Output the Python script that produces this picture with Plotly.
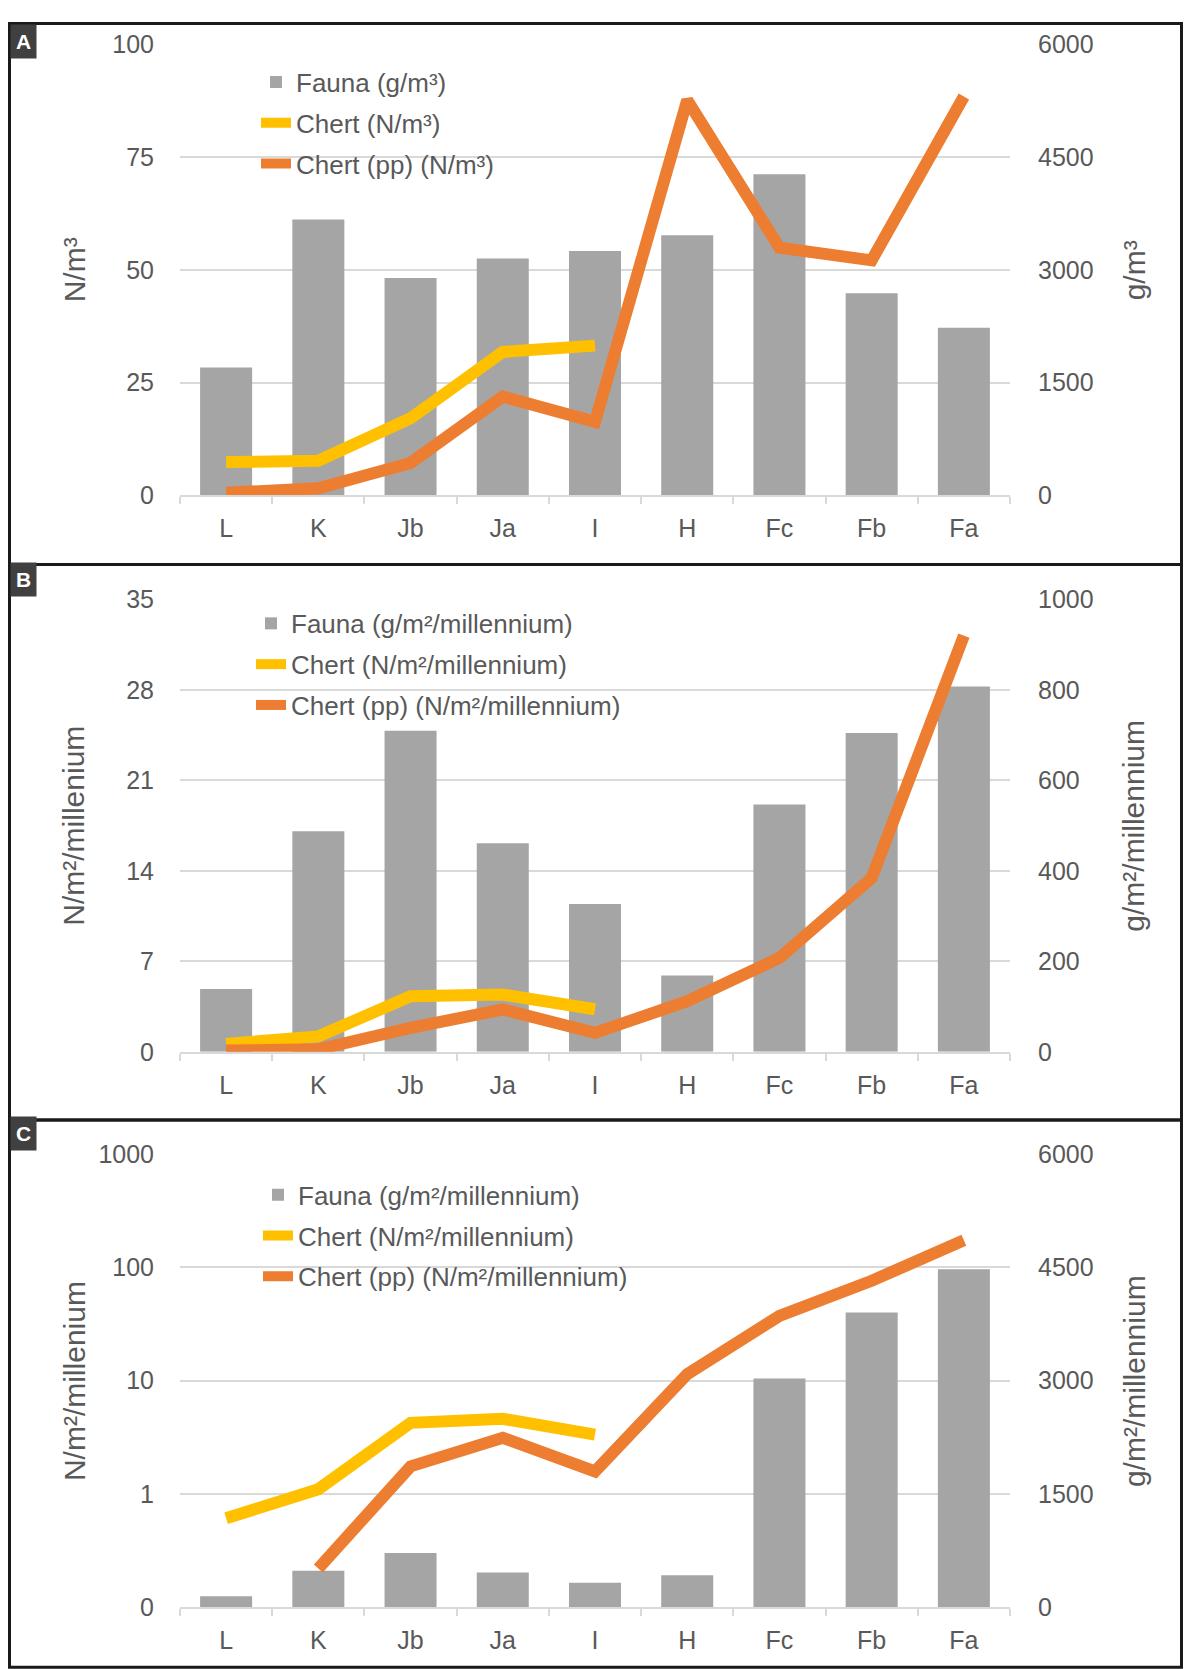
import plotly.graph_objects as go

# Figure size (the page adds an 8px body margin around it)
W, H = 1175, 1676

categories = ["L", "K", "Jb", "Ja", "I", "H", "Fc", "Fb", "Fa"]

# Panel A
fauna_a = [1700, 3670, 2890, 3150, 3250, 3460, 4270, 2690, 2230]
chert_a = [7.4, 7.7, 17.1, 31.8, 33.2, None, None, None, None]
chert_pp_a = [0.6, 1.6, 7.2, 21.9, 16.3, 87.6, 54.9, 52.1, 88.4]

# Panel B
fauna_b = [139, 488, 710, 461, 327, 169, 547, 705, 808]
chert_b = [0.62, 1.2, 4.3, 4.44, 3.3, None, None, None, None]
chert_pp_b = [0.1, 0.2, 1.86, 3.28, 1.47, 3.92, 7.27, 13.46, 32.2]

# Panel C (left axis logarithmic)
fauna_c = [147, 482, 719, 460, 326, 424, 3029, 3900, 4475]
chert_c = [0.61, 1.1, 4.24, 4.6, 3.34, None, None, None, None]
chert_pp_c = [None, 0.22, 1.75, 3.13, 1.58, 11.4, 37.3, 76, 173]

left_ticks_a = [0, 25, 50, 75, 100]
right_ticks_a = [0, 1500, 3000, 4500, 6000]
left_ticks_b = [0, 7, 14, 21, 28, 35]
right_ticks_b = [0, 200, 400, 600, 800, 1000]
left_ticks_c = [0.1, 1, 10, 100, 1000]
left_ticktext_c = ["0", "1", "10", "100", "1000"]
right_ticks_c = [0, 1500, 3000, 4500, 6000]

GRAY = "#a5a5a5"
YELLOW = "#ffc000"
ORANGE = "#ed7d31"
TXT = "#595959"
GRID = "#d9d9d9"
FONT = "Liberation Sans, Arial, sans-serif"


def px_x(t):
    # target picture x (px) -> paper x
    return (t - 8) / W


def fig_y(t):
    # target picture y (px) -> figure y (px from top)
    return (t - 14) / 0.9826 - 8


def px_y(t):
    return 1 - fig_y(t) / H


def raw_y(fy):
    return 1 - fy / H


x_dom = [px_x(180), px_x(1010)]
dom_a = [px_y(495), px_y(44)]
dom_b = [px_y(1051), px_y(599)]
dom_c = [px_y(1606), px_y(1153)]

fig = go.Figure()

panels = [
    dict(x="x", ybar="y", yline="y2", legend="legend",
         fauna=fauna_a, chert=chert_a, pp=chert_pp_a,
         names=["Fauna (g/m³)", "Chert (N/m³)", "Chert (pp) (N/m³)"]),
    dict(x="x2", ybar="y3", yline="y4", legend="legend2",
         fauna=fauna_b, chert=chert_b, pp=chert_pp_b,
         names=["Fauna (g/m²/millennium)", "Chert (N/m²/millennium)",
                "Chert (pp) (N/m²/millennium)"]),
    dict(x="x3", ybar="y5", yline="y6", legend="legend3",
         fauna=fauna_c, chert=chert_c, pp=chert_pp_c,
         names=["Fauna (g/m²/millennium)", "Chert (N/m²/millennium)",
                "Chert (pp) (N/m²/millennium)"]),
]

for i, p in enumerate(panels):
    fig.add_trace(go.Bar(x=categories, y=p["fauna"], name=p["names"][0],
                         marker=dict(color=GRAY, line=dict(width=0)),
                         xaxis=p["x"], yaxis=p["ybar"], legend=p["legend"],
                         legendgroup=f"f{i}"))
    fig.add_trace(go.Scatter(x=categories, y=p["chert"], name=p["names"][1],
                             mode="lines", line=dict(color=YELLOW, width=12),
                             xaxis=p["x"], yaxis=p["yline"], legend=p["legend"],
                             legendgroup=f"c{i}"))
    fig.add_trace(go.Scatter(x=categories, y=p["pp"], name=p["names"][2],
                             mode="lines", line=dict(color=ORANGE, width=12),
                             xaxis=p["x"], yaxis=p["yline"], legend=p["legend"],
                             legendgroup=f"p{i}"))

tickfont = dict(family=FONT, size=25, color=TXT)


def xaxis(anchor):
    return dict(domain=x_dom, anchor=anchor, type="category",
                categoryorder="array", categoryarray=categories,
                showgrid=False, showline=True, linecolor=GRID, linewidth=1.5,
                ticks="outside", tickson="boundaries", ticklen=7,
                tickcolor=GRID, tickwidth=1.5, tickfont=tickfont,
                ticklabelstandoff=10,
                zeroline=False, fixedrange=True)


def bar_axis(anchor, dom, rng, ticks):
    return dict(domain=dom, anchor=anchor, side="right", range=rng,
                tickvals=ticks, showgrid=True, gridcolor=GRID, gridwidth=1.5,
                zeroline=False, showline=False, ticks="outside", ticklen=22,
                tickcolor="rgba(0,0,0,0)", tickfont=tickfont)


def line_axis(anchor, over, rng, ticks, ticktext=None, log=False):
    d = dict(anchor=anchor, overlaying=over, side="left", range=rng,
             tickvals=ticks, showgrid=False, zeroline=False, showline=False,
             ticks="outside", ticklen=20, tickcolor="rgba(0,0,0,0)",
             tickfont=tickfont)
    if ticktext is not None:
        d["ticktext"] = ticktext
    if log:
        d["type"] = "log"
    return d


legend_font = dict(family=FONT, size=26, color=TXT)


def legend(text_left, top_row):
    return dict(x=px_x(text_left - 41), y=raw_y(fig_y(top_row) - 23),
                xanchor="left", yanchor="top", bgcolor="rgba(0,0,0,0)",
                font=legend_font, tracegroupgap=4, traceorder="grouped",
                itemwidth=30)


fig.update_layout(
    width=W, height=H, autosize=False,
    margin=dict(l=0, r=0, t=0, b=0),
    paper_bgcolor="white", plot_bgcolor="white",
    bargap=0.436,
    showlegend=True,
    xaxis=xaxis("y"),
    xaxis2=xaxis("y3"),
    xaxis3=xaxis("y5"),
    yaxis=bar_axis("x", dom_a, [0, 6000], right_ticks_a),
    yaxis2=line_axis("x", "y", [0, 100], left_ticks_a),
    yaxis3=bar_axis("x2", dom_b, [0, 1000], right_ticks_b),
    yaxis4=line_axis("x2", "y3", [0, 35], left_ticks_b),
    yaxis5=bar_axis("x3", dom_c, [0, 6000], right_ticks_c),
    yaxis6=line_axis("x3", "y5", [-1, 3], left_ticks_c, left_ticktext_c, log=True),
    legend=legend(297, 81),
    legend2=legend(292, 622),
    legend3=legend(299, 1193),
)

# Panel borders (figure-y values)
borders = [(1.5, fig_y(564)), (fig_y(564), fig_y(1119)), (fig_y(1119), fig_y(1666))]
for top, bottom in borders:
    fig.add_shape(type="rect", xref="paper", yref="paper",
                  x0=px_x(9.5), x1=px_x(1181.5), y0=raw_y(bottom), y1=raw_y(top),
                  line=dict(color="#1a1a1a", width=3), fillcolor="rgba(0,0,0,0)",
                  layer="above")

# Panel letters
for letter, fy in [("A", 2.5), ("B", fig_y(561)), ("C", fig_y(1115))]:
    fig.add_annotation(text=f"<b>{letter}</b>", xref="paper", yref="paper",
                       x=px_x(10), y=raw_y(fy), xanchor="left", yanchor="top",
                       showarrow=False, bgcolor="#404040", borderpad=5,
                       font=dict(family=FONT, size=21, color="white"))

# Axis titles
axis_titles = [
    ("N/m³", "g/m³", 270),
    ("N/m²/millenium", "g/m²/millennium", 825),
    ("N/m²/millenium", "g/m²/millennium", 1380),
]
for left_t, right_t, yc in axis_titles:
    fig.add_annotation(text=left_t, xref="paper", yref="paper", x=px_x(74),
                       y=px_y(yc), textangle=-90, showarrow=False,
                       xanchor="center", yanchor="middle",
                       font=dict(family=FONT, size=30, color=TXT))
    fig.add_annotation(text=right_t, xref="paper", yref="paper", x=px_x(1134),
                       y=px_y(yc), textangle=-90, showarrow=False,
                       xanchor="center", yanchor="middle",
                       font=dict(family=FONT, size=30, color=TXT))

fig.write_html("out.html")
